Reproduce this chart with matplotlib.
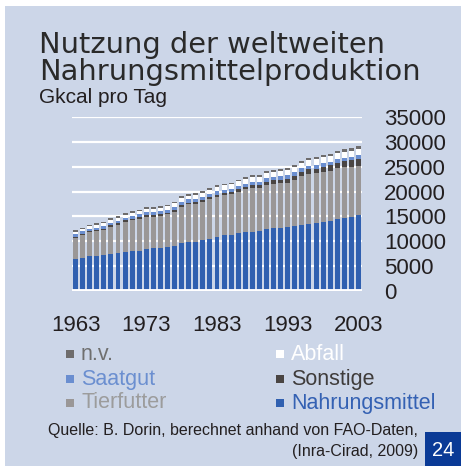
import matplotlib
matplotlib.use('Agg')
import matplotlib.pyplot as plt
from matplotlib.patches import Rectangle

jahre = list(range(1963, 2004))

nahrungsmittel = [6460, 6730, 7070, 7070, 7200, 7400, 7670, 7870, 8010, 8080,
                  8480, 8610, 8750, 8880, 9090, 9560, 9830, 9890, 10230, 10500,
                  10840, 11170, 11310, 11580, 11840, 11910, 12110, 12380, 12590, 12720,
                  12850, 13060, 13190, 13460, 13660, 13930, 14130, 14400, 14670, 14940, 15200]
tierfutter = [4240, 4510, 4710, 4910, 5050, 5520, 5650, 6060, 6260, 6460,
              6460, 6330, 6390, 6530, 6860, 7400, 7600, 7600, 7740, 8010,
              8140, 8140, 8140, 8410, 8610, 8820, 8600, 8950, 8950, 8950,
              8950, 9290, 9960, 10100, 10030, 10100, 10100, 10300, 10230, 10100, 10030]
sonstige = [250, 250, 260, 270, 270, 280, 290, 300, 300, 310,
            320, 320, 330, 330, 340, 350, 360, 370, 380, 390,
            400, 420, 440, 470, 500, 540, 600, 650, 700, 750,
            800, 830, 870, 900, 950, 1000, 1050, 1100, 1200, 1250, 1350]
saatgut = [480, 500, 500, 510, 520, 530, 540, 550, 560, 570,
           580, 580, 590, 600, 600, 610, 620, 630, 640, 650,
           650, 660, 660, 670, 670, 680, 680, 690, 690, 700,
           700, 700, 710, 710, 720, 720, 730, 730, 740, 750, 760]
abfall = [450, 480, 500, 520, 540, 560, 580, 600, 620, 640,
          660, 670, 680, 700, 720, 740, 760, 780, 800, 820,
          840, 860, 880, 900, 920, 940, 960, 980, 1000, 1020,
          1040, 1060, 1080, 1100, 1120, 1140, 1160, 1180, 1200, 1220, 1250]
nv = [300, 300, 300, 310, 310, 310, 320, 320, 320, 330,
      330, 330, 340, 340, 340, 350, 350, 350, 360, 360,
      360, 370, 370, 380, 380, 390, 390, 400, 400, 410,
      410, 420, 430, 440, 450, 460, 470, 490, 510, 530, 560]

# Reihenfolge von unten nach oben
serien = [('Nahrungsmittel', nahrungsmittel, '#3060b0'),
          ('Tierfutter', tierfutter, '#9a9797'),
          ('Sonstige', sonstige, '#4a4543'),
          ('Saatgut', saatgut, '#6a8ed0'),
          ('Abfall', abfall, '#ffffff'),
          ('n.v.', nv, '#6e6c6c')]

x_ticks = [1963, 1973, 1983, 1993, 2003]
y_ticks = [0, 5000, 10000, 15000, 20000, 25000, 30000, 35000]

W, H = 461, 466
bg = '#ccd6e8'
txt = '#231f20'

fig = plt.figure(figsize=(W / 100, H / 100), dpi=100)
fig.patch.set_facecolor('white')
fig.add_artist(Rectangle((5 / W, 0), 1 - 5 / W, (H - 6) / H, transform=fig.transFigure,
                         facecolor=bg, edgecolor='none', zorder=0))

ax = fig.add_axes([72 / W, (H - 291) / H, 290 / W, 174 / H])
ax.set_facecolor('none')

unten = [0] * len(jahre)
for name, werte, farbe in serien:
    ax.bar(jahre, werte, bottom=unten, width=0.7, color=farbe, edgecolor='none', zorder=3)
    unten = [u + w for u, w in zip(unten, werte)]

for y in y_ticks[1:]:
    ax.axhline(y, color='white', lw=1.6, zorder=1)
ax.axhline(0, color='white', lw=3.5, zorder=4)

ax.set_xlim(1962.5, 2003.5)
ax.set_ylim(0, 35000)
for s in ax.spines.values():
    s.set_visible(False)
ax.yaxis.tick_right()
ax.set_yticks(y_ticks)
ax.set_yticklabels([str(v) for v in y_ticks], ha='left')
ax.set_xticks(x_ticks)
ax.set_xticklabels([str(v) for v in x_ticks])
ax.tick_params(axis='both', length=0, labelsize=16, labelcolor=txt,
               labelfontfamily='Liberation Sans')
ax.tick_params(axis='y', pad=16)
ax.tick_params(axis='x', pad=17)


def ft(x, y, s, **kw):
    fig.text(x / W, 1 - y / H, s, **kw)


ft(39, 53, 'Nutzung der weltweiten', fontsize=20.8, color='#2a2a2a', family='DejaVu Sans', va='baseline')
ft(39, 80, 'Nahrungsmittelproduktion', fontsize=20.8, color='#2a2a2a', family='DejaVu Sans', va='baseline')
ft(39, 103, 'Gkcal pro Tag', fontsize=15, color=txt, family='Liberation Sans', va='baseline')

# Legende in zwei Spalten
legende = [('n.v.', 66, 354, '#6e6c6c', '#6f6f6f'),
           ('Saatgut', 66, 379, '#6a8ed0', '#6b8fd0'),
           ('Tierfutter', 66, 403, '#9a9797', '#9c9c9c'),
           ('Abfall', 276, 354, '#ffffff', '#ffffff'),
           ('Sonstige', 276, 379, '#4a4543', '#3f3c3b'),
           ('Nahrungsmittel', 276, 403, '#3060b0', '#3461b3')]
for name, lx, ly, farbe, tfarbe in legende:
    fig.add_artist(Rectangle((lx / W, 1 - (ly + 4) / H), 8 / W, 8 / H,
                             transform=fig.transFigure, facecolor=farbe, edgecolor='none'))
    ft(lx + 15, ly, name, fontsize=15.5, color=tfarbe, family='Liberation Sans', va='center')

ft(418, 435, 'Quelle: B. Dorin, berechnet anhand von FAO-Daten,', fontsize=11.5, color=txt,
   family='Liberation Sans', ha='right', va='baseline')
ft(418, 456, '(Inra-Cirad, 2009)', fontsize=11.5, color=txt,
   family='Liberation Sans', ha='right', va='baseline')

fig.add_artist(Rectangle((425 / W, 0), 36 / W, 34 / H, transform=fig.transFigure,
                         facecolor='#0a3a96', edgecolor='none'))
ft(443, 450, '24', fontsize=14.5, color='white', family='Liberation Sans', ha='center', va='center')

fig.savefig('out.png', dpi=100)
